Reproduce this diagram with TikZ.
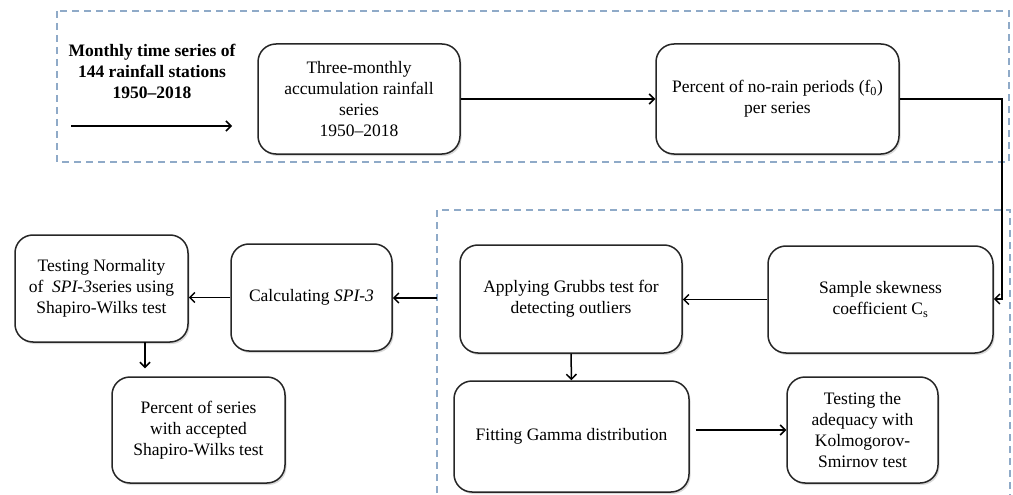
\documentclass[tikz,border=0pt]{standalone}
\usepackage{fontspec}
\setmainfont{Liberation Serif}
\usetikzlibrary{arrows.meta,shadows,calc}
\definecolor{framecol}{RGB}{143,170,200}
\begin{document}
\begin{tikzpicture}[x=1pt,y=-1pt,
  box/.style={draw=black!85, line width=1.5pt, rounded corners=18pt, fill=white,
    align=center, inner sep=2pt, font=\fontsize{17.5}{21}\selectfont,
    drop shadow={opacity=0.3, shadow xshift=1.5pt, shadow yshift=-2pt}},
  arr/.style={line width=1.5pt, -{Straight Barb[length=5pt,width=10pt]}},
  frame/.style={draw=framecol, line width=1.6pt, dash pattern=on 7pt off 5pt}]
\useasboundingbox (0,0) rectangle (1013,495);
% dashed frames
\draw[frame] (57,11) rectangle (1009,162);
\draw[frame] (437,505) -- (437,210) -- (1010,210) -- (1010,505);
% input text
\node[font=\fontsize{17.5}{21}\selectfont\bfseries, align=center] (in) at (152,71)
  {Monthly time series of\\144 rainfall stations\\1950--2018};
\coordinate (a0) at (71,126);
\coordinate (a1) at (232,126);
% boxes
\node[box, minimum width=202pt, minimum height=110pt] (B1) at (359,99)
  {Three-monthly\\accumulation rainfall\\series\\1950--2018};
\node[box, minimum width=243pt, minimum height=110pt] (B2) at (777.5,99)
  {Percent of no-rain periods (f\textsubscript{0})\\per series};
\node[box, minimum width=225pt, minimum height=107pt] (S) at (880.5,299.5)
  {Sample skewness\\coefficient C\textsubscript{s}};
\node[box, minimum width=222pt, minimum height=108pt] (G) at (571,299)
  {Applying Grubbs test for\\detecting outliers};
\node[box, minimum width=235pt, minimum height=111pt] (F) at (571.5,436.5)
  {Fitting Gamma distribution};
\node[box, minimum width=151pt, minimum height=106pt] (A) at (862.5,430)
  {Testing the\\adequacy with\\Kolmogorov-\\Smirnov test};
\node[box, minimum width=161pt, minimum height=107pt] (C) at (311.5,297.5)
  {Calculating \textit{SPI-3}};
\node[box, minimum width=173pt, minimum height=107pt] (TN) at (101.5,288.5)
  {Testing Normality\\of \ \textit{SPI-3}series using\\Shapiro-Wilks test};
\node[box, minimum width=173pt, minimum height=106pt] (P) at (198.5,430)
  {Percent of series\\with accepted\\Shapiro-Wilks test};
% connectors
\draw[arr] (a0) -- (a1);
\draw[arr] (B1.east) -- (B2.west);
\coordinate (c1) at (1002,99);
\coordinate (c2) at (1002,299);
\draw[arr] (B2.east) -- (c1) -- (c2) -- (c2 -| S.east);
\draw[arr] (S.west) -- (S.west -| G.east);
\draw[arr] (G.south) -- (F.north);
\draw[arr, shorten <=6pt] (F.east |- A.west) -- (A.west);
\coordinate (fl) at (437,298);
\draw[arr] (fl) -- (fl -| C.east);
\draw[arr] (C.west) -- (C.west -| TN.east);
\coordinate (t0) at (145,342);
\draw[arr, shorten >=8pt] (t0) -- (t0 |- P.north);
\end{tikzpicture}
\end{document}
